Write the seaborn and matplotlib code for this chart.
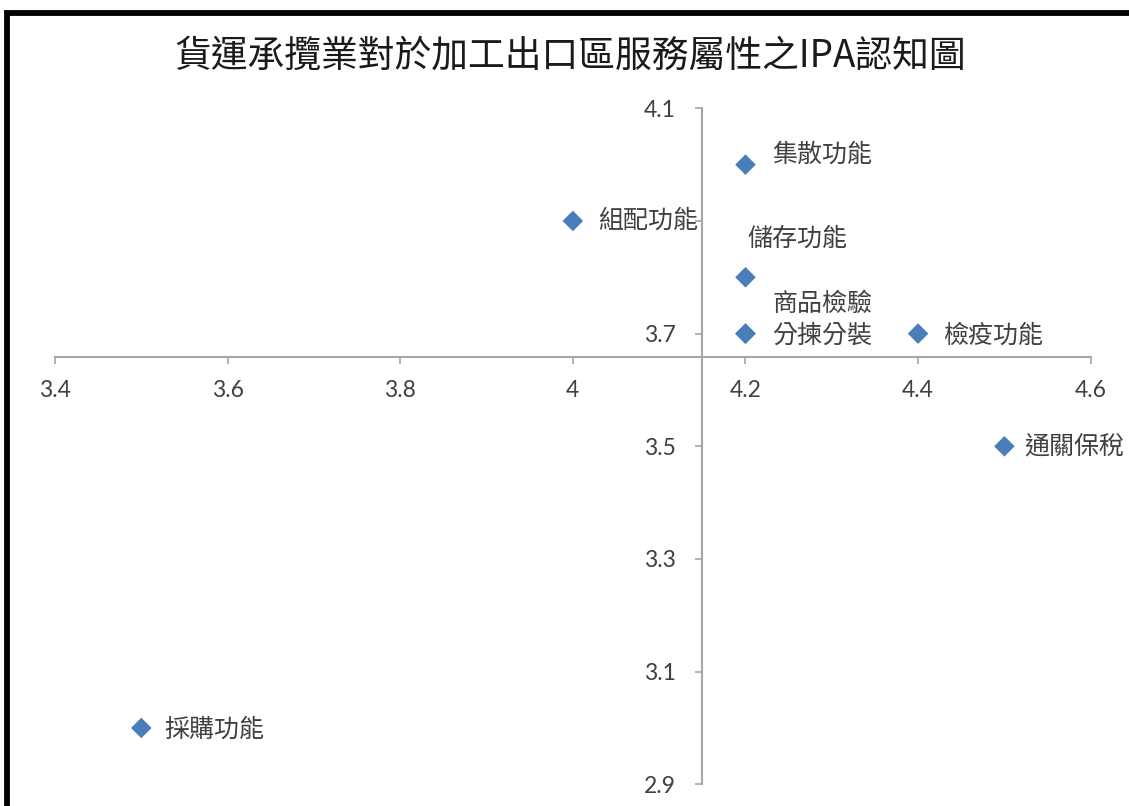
import matplotlib
matplotlib.use("Agg")
import matplotlib.pyplot as plt
import seaborn as sns
import pandas as pd
from matplotlib.patches import Rectangle

# ---- data ----
labels = ["集散功能", "組配功能", "儲存功能", "商品檢驗", "分揀分裝", "檢疫功能", "通關保稅", "採購功能"]
x_vals = [4.2, 4.0, 4.2, 4.2, 4.2, 4.4, 4.5, 3.5]
y_vals = [4.0, 3.9, 3.8, 3.7, 3.7, 3.7, 3.5, 3.0]
x_ticks = [3.4, 3.6, 3.8, 4.0, 4.2, 4.4, 4.6]
x_tick_labels = ["3.4", "3.6", "3.8", "4", "4.2", "4.4", "4.6"]
y_ticks = [2.9, 3.1, 3.3, 3.5, 3.7, 3.9, 4.1]
y_tick_labels = ["2.9", "3.1", "3.3", "3.5", "3.7", "", "4.1"]  # 3.9 hidden under a data label
title = "貨運承攬業對於加工出口區服務屬性之IPA認知圖"
x_cross = 4.15
y_cross = 3.658

df = pd.DataFrame({"x": x_vals, "y": y_vals, "label": labels})

sns.set_theme(style="white")
plt.rcParams["font.family"] = ["Noto Sans CJK TC", "DejaVu Sans"]

W, H = 1129, 806
fig = plt.figure(figsize=(W / 100, H / 100), dpi=100)
fig.patch.set_facecolor("white")

ax = fig.add_axes([55 / W, 1 - 784.3 / H, (1090.7 - 55) / W, (784.3 - 108.3) / H])
ax.set_facecolor("none")

sns.scatterplot(data=df, x="x", y="y", marker="D", s=110, color="#4A7EBB",
                edgecolor="none", ax=ax, legend=False, zorder=3)

ax.set_xlim(3.4, 4.6)
ax.set_ylim(2.9, 4.1)
ax.set_xlabel("")
ax.set_ylabel("")

for side in ["top", "right"]:
    ax.spines[side].set_visible(False)
ax.spines["left"].set_position(("data", x_cross))
ax.spines["bottom"].set_position(("data", y_cross))
for side in ["left", "bottom"]:
    ax.spines[side].set_color("#a6a6a6")
    ax.spines[side].set_linewidth(1.5)

ax.set_xticks(x_ticks)
ax.set_xticklabels(x_tick_labels)
ax.set_yticks(y_ticks)
ax.set_yticklabels(y_tick_labels)
ax.tick_params(axis="both", which="major", direction="out", length=5, width=1.2,
               color="#a6a6a6", labelcolor="#404040", labelsize=16.5,
               left=True, bottom=True)
ax.tick_params(axis="x", pad=11)
ax.tick_params(axis="y", pad=14)
for t in ax.get_xticklabels() + ax.get_yticklabels():
    t.set_family(["Lato", "DejaVu Sans"])

# data labels (offsets in pixels)
offsets = {
    "集散功能": (27, 10, "left"),
    "組配功能": (25, 0, "left"),
    "儲存功能": (2, 39, "left"),
    "商品檢驗": (27, 30, "left"),
    "分揀分裝": (27, -2, "left"),
    "檢疫功能": (25, -2, "left"),
    "通關保稅": (20, 0, "left"),
    "採購功能": (23, -2, "left"),
}
for lab, xv, yv in zip(labels, x_vals, y_vals):
    dx, dy, ha = offsets[lab]
    ax.annotate(lab, (xv, yv), xytext=(dx, dy), textcoords="offset pixels",
                ha=ha, va="center", fontsize=18, color="#404040",
                annotation_clip=False, zorder=4)

fig.text(570 / W, 1 - 56 / H, title, ha="center", va="center",
         fontsize=26.5, color="#1a1a1a")

# outer black frame (cropped on right / bottom)
fig.patches.append(Rectangle((7 / W, -0.2), 1.5, 1 - 12.5 / H + 0.2,
                             transform=fig.transFigure, fill=False,
                             edgecolor="black", linewidth=4.2, zorder=10))

fig.savefig("out.png", dpi=100, facecolor="white")
